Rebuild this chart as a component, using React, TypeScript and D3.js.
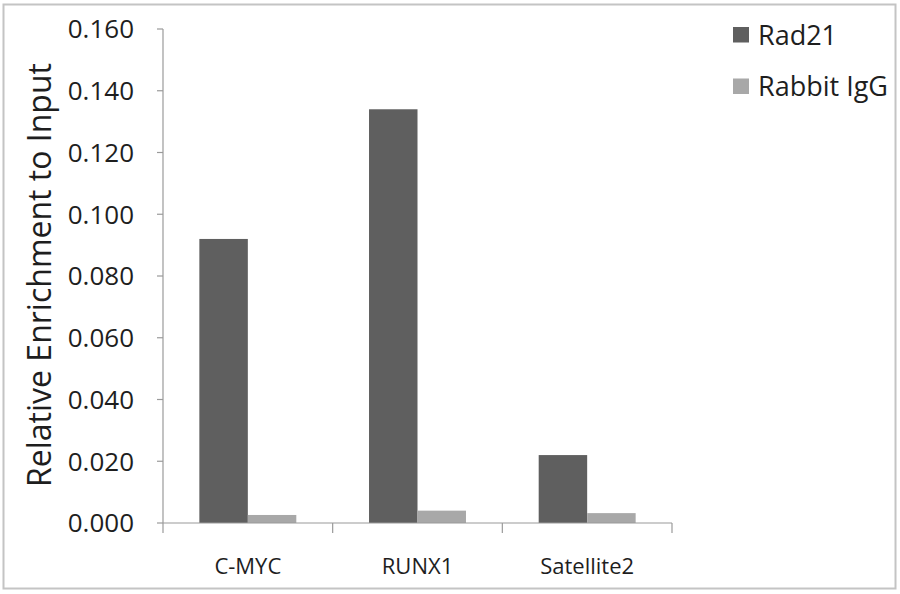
import React from "react";
import * as d3 from "d3";

const categories = ["C-MYC", "RUNX1", "Satellite2"];
const seriesNames = ["Rad21", "Rabbit IgG"];
const rad21 = [0.092, 0.134, 0.022];
const rabbitIgG = [0.0026, 0.004, 0.0032];
const yTicks = [0, 0.02, 0.04, 0.06, 0.08, 0.1, 0.12, 0.14, 0.16];
const colors = ["#5f5f5f", "#a8a8a8"];

const W = 900, H = 594;
const left = 163, right = 672, top = 29, bottom = 523;
const FONT = "'Open Sans', 'Noto Sans', sans-serif";

export default function App() {
  const x = d3.scaleBand<string>().domain(categories).range([left, right]).paddingInner(0).paddingOuter(0);
  const x1 = d3.scaleBand<string>().domain(seriesNames).range([0, x.bandwidth()]).paddingInner(0).paddingOuter(0.75);
  const y = d3.scaleLinear().domain([0, 0.16]).range([bottom, top]);
  const series = [rad21, rabbitIgG];
  const axisColor = "#9a9a9a";
  const textColor = "#1e1e1e";
  return (
    <svg width={W} height={H} style={{ position: "absolute", left: 0, top: 0, background: "#fff" }}>
      <rect x={3.5} y={4.5} width={892} height={584} fill="#fff" stroke="#c4c4c4" strokeWidth={2} />
      {/* bars */}
      {categories.map((c, i) =>
        seriesNames.map((s, j) => (
          <rect key={c + s} x={(x(c) ?? 0) + (x1(s) ?? 0)} y={y(series[j][i])}
            width={x1.bandwidth()} height={bottom - y(series[j][i])} fill={colors[j]} />
        ))
      )}
      {/* y axis */}
      <line x1={left} x2={left} y1={top} y2={bottom} stroke={axisColor} strokeWidth={1.2} />
      {yTicks.map((t) => (
        <g key={t}>
          <line x1={left - 6} x2={left} y1={y(t)} y2={y(t)} stroke={axisColor} strokeWidth={1.2} />
          <text x={left - 29} y={y(t)} dy="0.36em" textAnchor="end" fontFamily={FONT} fontSize={26} fill={textColor}>
            {t.toFixed(3)}
          </text>
        </g>
      ))}
      {/* x axis */}
      <line x1={left} x2={right} y1={bottom} y2={bottom} stroke={axisColor} strokeWidth={1.2} />
      {[...categories.map((c) => x(c) ?? 0), right].map((p, i) => (
        <line key={i} x1={p} x2={p} y1={bottom} y2={bottom + 10} stroke={axisColor} strokeWidth={1.2} />
      ))}
      {categories.map((c) => (
        <text key={c} x={(x(c) ?? 0) + x.bandwidth() / 2} y={574} textAnchor="middle" fontFamily={FONT} fontSize={22} fill={textColor}>
          {c}
        </text>
      ))}
      {/* y label */}
      <text transform={`translate(51, ${275}) rotate(-90)`} textAnchor="middle" fontFamily={FONT} fontSize={32} fill={textColor}>
        Relative Enrichment to Input
      </text>
      {/* legend */}
      {seriesNames.map((s, j) => (
        <g key={s} transform={`translate(733, ${27 + j * 51.5})`}>
          <rect x={0} y={0} width={16} height={15.5} fill={colors[j]} />
          <text x={25} y={8} dy="0.36em" fontFamily={FONT} fontSize={27} fill={textColor}>{s}</text>
        </g>
      ))}
    </svg>
  );
}
